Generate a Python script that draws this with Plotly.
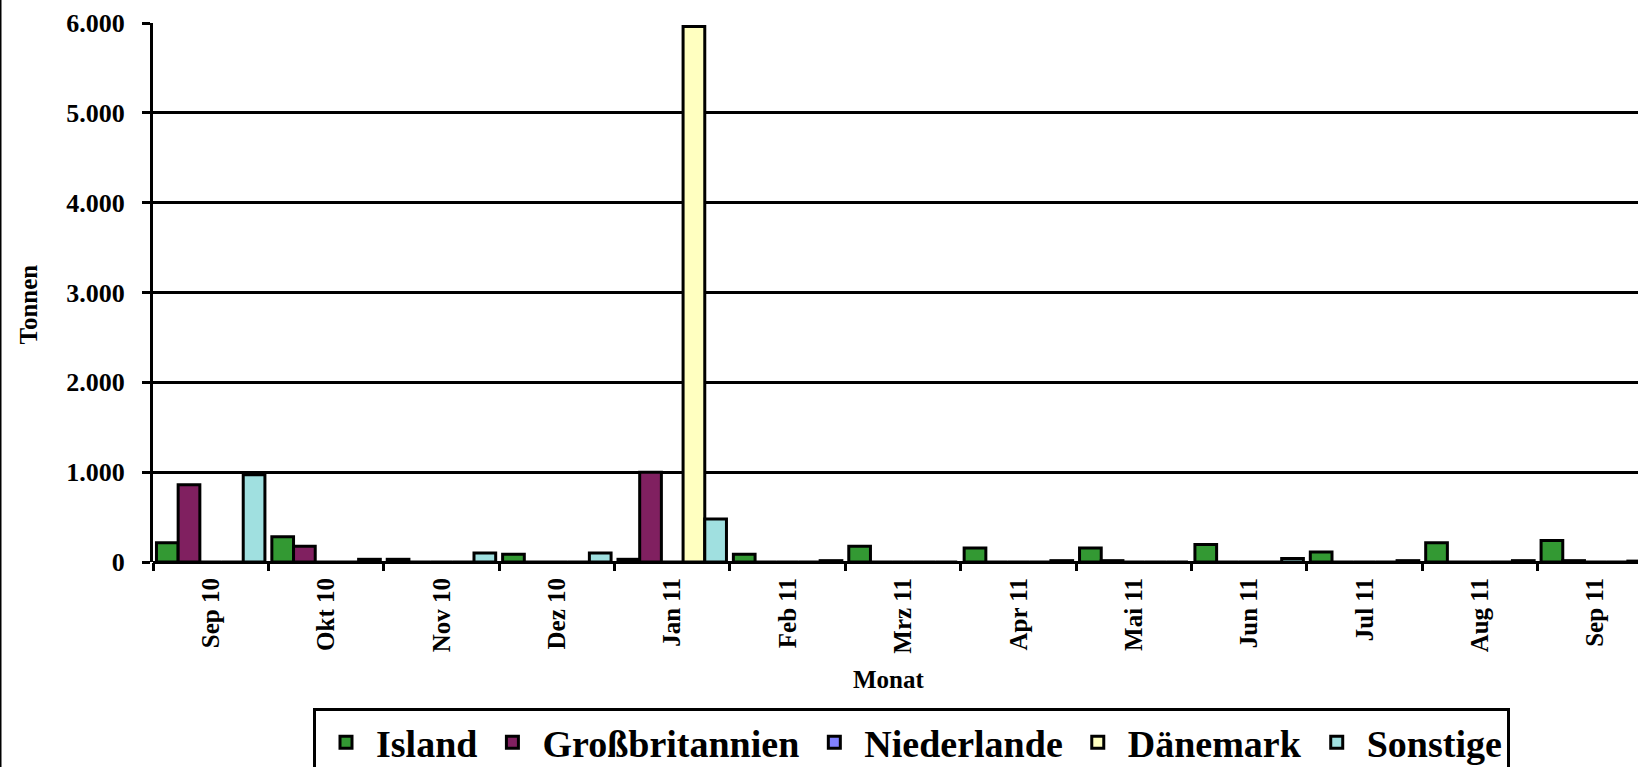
import plotly.graph_objects as go

months = ["Sep 10", "Okt 10", "Nov 10", "Dez 10", "Jan 11", "Feb 11", "Mrz 11",
          "Apr 11", "Mai 11", "Jun 11", "Jul 11", "Aug 11", "Sep 11"]

island = [215, 280, 30, 85, 30, 85, 175, 155, 155, 195, 110, 215, 240]
grossbritannien = [860, 175, 0, 0, 1000, 0, 0, 0, 15, 0, 0, 0, 15]
niederlande = [0, 0, 0, 0, 0, 0, 0, 0, 0, 0, 0, 0, 0]
daenemark = [0, 0, 0, 0, 5960, 0, 0, 0, 0, 0, 0, 0, 0]
sonstige = [970, 30, 100, 100, 480, 15, 0, 15, 0, 40, 15, 15, 10]

series = [
    ("Island", island, "#339933"),
    ("Großbritannien", grossbritannien, "#802060"),
    ("Niederlande", niederlande, "#8080FF"),
    ("Dänemark", daenemark, "#FFFFC0"),
    ("Sonstige", sonstige, "#A0E0E0"),
]

FONT = "'Liberation Serif', 'Times New Roman', serif"
W, H = 1638, 767
ML, MT, MB, MR = 153, 23, 205, 0
PW = W - ML - MR
PH = H - MT - MB

fig = go.Figure()
for name, vals, col in series:
    fig.add_trace(go.Bar(
        x=months, y=vals, name=name,
        marker=dict(color=col, line=dict(color="black", width=3)),
    ))

fig.update_layout(
    width=W, height=H,
    margin=dict(l=ML, r=MR, t=MT, b=MB, pad=0, autoexpand=False),
    paper_bgcolor="white", plot_bgcolor="white",
    barmode="group", bargap=0.06, bargroupgap=0,
    separators=",.",
    font=dict(family=FONT, color="black", size=25, weight="bold"),
    showlegend=True,
    legend=dict(
        orientation="h",
        x=(313 - ML) / PW, xanchor="left",
        y=(MT + PH - 708) / PH, yanchor="top",
        bordercolor="black", borderwidth=3,
        font=dict(family=FONT, size=38, color="black", weight="bold"),
        bgcolor="white",
        itemwidth=50,
        traceorder="normal",
    ),
    xaxis=dict(
        type="category",
        range=[-0.5, 12.37],
        showgrid=False, showline=False, zeroline=False,
        ticks="outside", ticklen=8, tickwidth=3, tickcolor="black",
        tickson="boundaries",
        tickangle=-90,
        ticklabelstandoff=10,
        tickfont=dict(family=FONT, size=25, color="black", weight="bold"),
    ),
    yaxis=dict(
        range=[0, 6000],
        tickvals=[0, 1000, 2000, 3000, 4000, 5000, 6000],
        tickformat=",.0f",
        showgrid=True, gridcolor="black", gridwidth=3,
        showline=True, linecolor="black", linewidth=3,
        zeroline=True, zerolinecolor="black", zerolinewidth=3,
        ticks="outside", ticklen=8, tickwidth=3, tickcolor="black",
        ticklabelstandoff=12,
        tickfont=dict(family=FONT, size=26, color="black", weight="bold"),
    ),
    annotations=[
        dict(text="Tonnen", xref="paper", yref="paper",
             x=(27.5 - ML) / PW, y=(MT + PH - 305) / PH,
             xanchor="center", yanchor="middle", textangle=-90, showarrow=False,
             font=dict(family=FONT, size=25, color="black", weight="bold")),
        dict(text="Monat", xref="paper", yref="paper",
             x=(889 - ML) / PW, y=(MT + PH - 679) / PH,
             xanchor="center", yanchor="middle", showarrow=False,
             font=dict(family=FONT, size=25, color="black", weight="bold")),
    ],
    shapes=[
        dict(type="line", xref="paper", yref="paper",
             x0=(0.75 - ML) / PW, x1=(0.75 - ML) / PW, y0=-1, y1=2,
             line=dict(color="black", width=1.5)),
    ],
)

fig.write_html(
    "out.html",
    config={"displayModeBar": False},
    post_script="document.body.style.margin='0';document.body.style.overflow='hidden';",
)
